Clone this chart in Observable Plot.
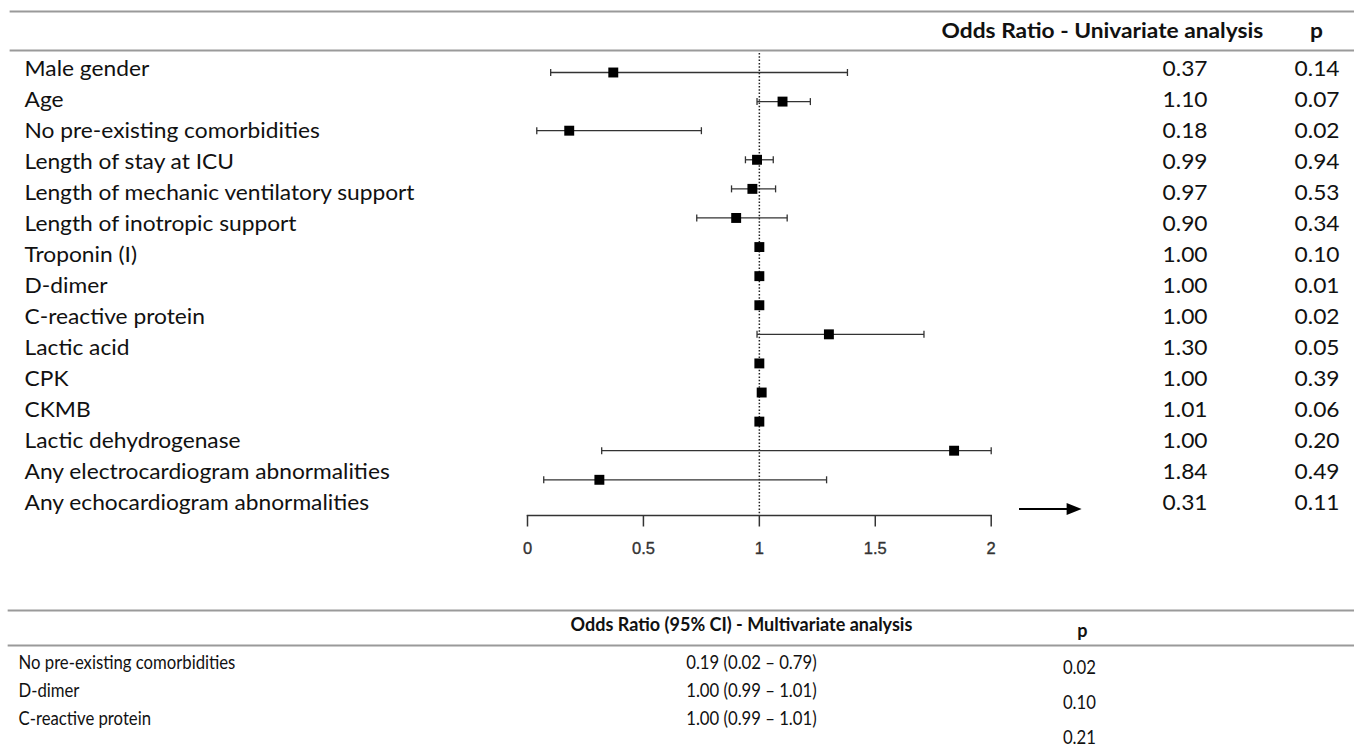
<!DOCTYPE html>
<html>
<head>
<meta charset="utf-8">
<script src="https://cdn.jsdelivr.net/npm/d3@7"></script>
<script src="https://cdn.jsdelivr.net/npm/@observablehq/plot@0.6"></script>
<style>
  html, body { margin: 0; padding: 0; background: #fff; }
  #chart { position: relative; width: 1354px; height: 751px; overflow: hidden; }
  #chart svg { position: absolute; left: 0; background: transparent; overflow: visible; transform-origin: 0 0; max-width: none !important; }
</style>
</head>
<body>
<div id="chart"></div>
<script>
// ---------- data ----------
const labels = [
  "Male gender", "Age", "No pre-existing comorbidities", "Length of stay at ICU",
  "Length of mechanic ventilatory support", "Length of inotropic support", "Troponin (I)",
  "D-dimer", "C-reactive protein", "Lactic acid", "CPK", "CKMB", "Lactic dehydrogenase",
  "Any electrocardiogram abnormalities", "Any echocardiogram abnormalities"
];
const oddsRatio = [0.37, 1.10, 0.18, 0.99, 0.97, 0.90, 1.00, 1.00, 1.00, 1.30, 1.00, 1.01, 1.00, 1.84, 0.31];
const ciLow     = [0.10, 0.99, 0.04, 0.94, 0.88, 0.73, 0.99, 0.99, 0.99, 0.99, 0.99, 1.00, 0.99, 0.32, 0.07];
const ciHigh    = [1.38, 1.22, 0.75, 1.06, 1.07, 1.12, 1.01, 1.01, 1.01, 1.71, 1.01, 1.02, 1.01, 2.00, 1.29];
const pValues   = ["0.14", "0.07", "0.02", "0.94", "0.53", "0.34", "0.10", "0.01", "0.02", "0.05", "0.39", "0.06", "0.20", "0.49", "0.11"];
const xTicks    = [0, 0.5, 1, 1.5, 2];
const xTickLabels = ["0", "0.5", "1", "1.5", "2"];
const arrowSpan = [{from: 2.12, to: 2.39, row: 15}];

const mvLabels = ["No pre-existing comorbidities", "D-dimer", "C-reactive protein"];
const mvOR     = [0.19, 1.00, 1.00];
const mvLow    = [0.02, 0.99, 0.99];
const mvHigh   = [0.79, 1.01, 1.01];
const mvP      = ["0.02", "0.10", "0.21"];

const headerUni = ["Odds Ratio - Univariate analysis", "p"];
const headerMulti = ["Odds Ratio (95% CI) - Multivariate analysis", "p"];

// ---------- tables built from arrays ----------
const rows = labels.map((label, i) => ({
  i, label, or: oddsRatio[i], lo: ciLow[i], hi: ciHigh[i], p: pValues[i]
}));
const mvRows = mvLabels.map((label, i) => ({
  label, text: `${mvOR[i].toFixed(2)} (${mvLow[i].toFixed(2)} \u2013 ${mvHigh[i].toFixed(2)})`, p: mvP[i]
}));

// ---------- layout / style ----------
const W = 1354;
const TXT = "Lato, 'Open Sans', sans-serif";
const RULE = {stroke: "#9a9a9a", strokeWidth: 2};
const INK = "#111";
const TOP = {fs: 20.5, s: 1.11};      // univariate table text (font size, horizontal stretch)
const BOT = {fs: 19, s: 0.88};        // multivariate table rows
const BOTH = {fs: 18.5, s: 0.975};    // multivariate header
const baseStyle = {background: "transparent", maxWidth: "none", overflow: "visible"};

const chart = document.getElementById("chart");
function place(svg, top, s = 1) {
  svg.style.top = top + "px";
  svg.style.maxWidth = "none";
  if (s !== 1) svg.style.transform = `scaleX(${s})`;
  chart.appendChild(svg);
}

// header of univariate table
{
  const s = TOP.s;
  place(Plot.plot({
    width: W / s, height: 60, marginTop: 11, marginBottom: 10, marginLeft: 10 / s, marginRight: 0,
    style: {...baseStyle, fontFamily: TXT},
    marks: [
      Plot.frame({anchor: "top", ...RULE}),
      Plot.frame({anchor: "bottom", ...RULE}),
      Plot.text([headerUni[0]], {frameAnchor: "left", dx: (1102 - 10) / s, textAnchor: "middle", fontWeight: "bold", fontSize: TOP.fs, fill: INK}),
      Plot.text([headerUni[1]], {frameAnchor: "left", dx: (1316 - 10) / s, textAnchor: "middle", fontWeight: "bold", fontSize: TOP.fs, fill: INK})
    ]
  }), 0, s);
}

// univariate table body
{
  const s = TOP.s;
  place(Plot.plot({
    width: W / s, height: 590, marginTop: 65.5, marginBottom: 83, marginLeft: 0, marginRight: 0,
    style: {...baseStyle, fontFamily: TXT},
    y: {type: "point", domain: labels, padding: 0, axis: null},
    marks: [
      Plot.text(rows, {y: "label", text: "label", frameAnchor: "left", dx: 24 / s, textAnchor: "start", fontSize: TOP.fs, fill: INK}),
      Plot.text(rows, {y: "label", text: d => d.or.toFixed(2), frameAnchor: "left", dx: 1207 / s, textAnchor: "end", fontSize: TOP.fs, fill: INK}),
      Plot.text(rows, {y: "label", text: "p", frameAnchor: "left", dx: 1339 / s, textAnchor: "end", fontSize: TOP.fs, fill: INK})
    ]
  }), 0, s);
}

// forest plot
const capSymbol = {draw(ctx) { ctx.moveTo(0, -3.5); ctx.lineTo(0, 3.5); }};
const headSymbol = {draw(ctx) { ctx.moveTo(0, 0); ctx.lineTo(-15, -6); ctx.lineTo(-15, 6); ctx.closePath(); }};
place(Plot.plot({
  width: W, height: 590, marginTop: 53, marginBottom: 75, marginLeft: 527, marginRight: 363.3,
  style: {...baseStyle, fontFamily: "'Liberation Sans', Arial, sans-serif"},
  x: {domain: [0, 2], axis: null},
  y: {domain: [0, 14], reverse: true, insetTop: 19, insetBottom: 35.7, axis: null},
  marks: [
    Plot.ruleX([1], {stroke: "#222", strokeWidth: 1.5, strokeDasharray: "1.5,1.8"}),
    Plot.frame({anchor: "bottom", stroke: "#333", strokeWidth: 1.5}),
    Plot.axisX({ticks: xTicks, tickFormat: null, tickSize: 11.5, stroke: "#333", strokeWidth: 1.5, text: null}),
    Plot.text(xTicks, {x: d => d, text: (d, i) => xTickLabels[i], frameAnchor: "bottom", dy: 38,
      fontSize: 16.5, fill: "#333", stroke: "#333", strokeWidth: 0.35, fontFamily: "'Liberation Sans', Arial, sans-serif"}),
    Plot.link(rows, {x1: "lo", x2: "hi", y1: "i", y2: "i", stroke: "#333", strokeWidth: 1.3}),
    Plot.dot(rows, {x: "lo", y: "i", symbol: capSymbol, stroke: "#333", strokeWidth: 1.3, fill: "none"}),
    Plot.dot(rows, {x: "hi", y: "i", symbol: capSymbol, stroke: "#333", strokeWidth: 1.3, fill: "none"}),
    Plot.dot(rows, {x: "or", y: "i", symbol: "square", r: 5.6, fill: "#000", stroke: "none"}),
    Plot.link(arrowSpan, {x1: "from", x2: d => d.to - 0.03, y1: "row", y2: "row", stroke: "#000", strokeWidth: 2}),
    Plot.dot(arrowSpan, {x: "to", y: "row", symbol: headSymbol, fill: "#000", stroke: "none"})
  ]
}), 0);

// header of multivariate table
{
  const s = BOTH.s;
  place(Plot.plot({
    width: W / s, height: 70, marginTop: 20, marginBottom: 15, marginLeft: 8 / s, marginRight: 0,
    style: {...baseStyle, fontFamily: TXT},
    marks: [
      Plot.frame({anchor: "top", ...RULE}),
      Plot.frame({anchor: "bottom", ...RULE}),
      Plot.text([headerMulti[0]], {frameAnchor: "left", dx: (741 - 8) / s, dy: -2.5, textAnchor: "middle", fontWeight: "bold", fontSize: BOTH.fs, fill: INK}),
      Plot.text([headerMulti[1]], {frameAnchor: "left", dx: (1082 - 8) / s, dy: 3.5, textAnchor: "middle", fontWeight: "bold", fontSize: BOTH.fs, fill: INK})
    ]
  }), 590, s);
}

// multivariate rows (labels + OR) and p column
{
  const s = BOT.s;
  place(Plot.plot({
    width: W / s, height: 106, marginTop: 16.7, marginBottom: 33, marginLeft: 0, marginRight: 0,
    style: {...baseStyle, fontFamily: TXT},
    y: {type: "point", domain: mvLabels, padding: 0, axis: null},
    marks: [
      Plot.text(mvRows, {y: "label", text: "label", frameAnchor: "left", dx: 18 / s, textAnchor: "start", fontSize: BOT.fs, fill: INK}),
      Plot.text(mvRows, {y: "label", text: "text", frameAnchor: "left", dx: 751 / s, textAnchor: "middle", fontSize: BOT.fs, fill: INK})
    ]
  }), 645, s);

  place(Plot.plot({
    width: W / s, height: 106, marginTop: 21, marginBottom: 13.7, marginLeft: 0, marginRight: 0,
    style: {...baseStyle, fontFamily: TXT},
    y: {type: "point", domain: mvLabels, padding: 0, axis: null},
    marks: [
      Plot.text(mvRows, {y: "label", text: "p", frameAnchor: "left", dx: 1079 / s, textAnchor: "middle", fontSize: BOT.fs, fill: INK})
    ]
  }), 645, s);
}
</script>
</body>
</html>
